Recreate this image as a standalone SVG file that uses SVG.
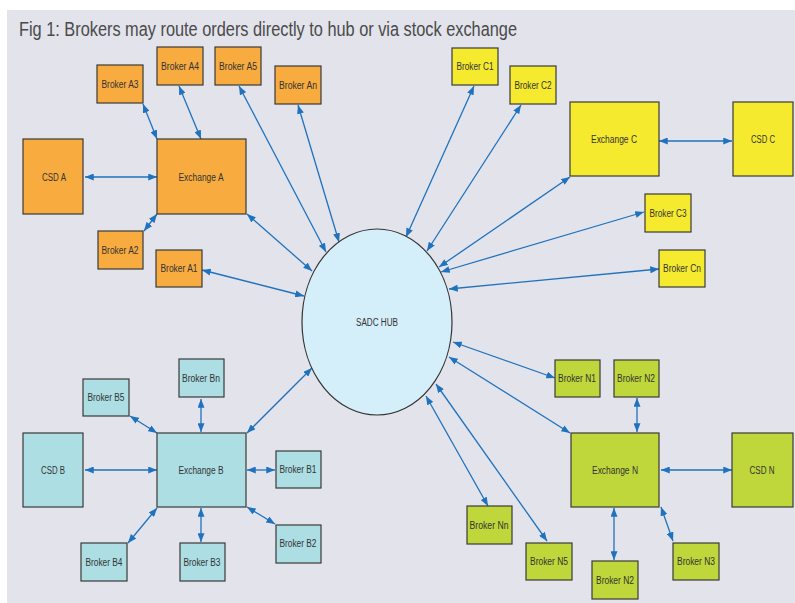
<svg xmlns="http://www.w3.org/2000/svg" width="795" height="603" viewBox="0 0 795 603">
<style>
.n rect{stroke:#3a3a3a;stroke-width:1.2}
.o rect{fill:#f8ac40}
.y rect{fill:#f6ea2f}
.b rect{fill:#acdee3}
.g rect{fill:#bfd73a}
text{font-family:"Liberation Sans",Arial,sans-serif;font-size:10px;fill:#333;text-anchor:middle;dominant-baseline:central}
#conn line{stroke:#1f72be;stroke-width:1.3;marker-start:url(#ah);marker-end:url(#ah)}
</style>
<defs>
<marker id="ah" viewBox="0 0 10 8" markerWidth="9" markerHeight="7" refX="10" refY="4" orient="auto-start-reverse" markerUnits="userSpaceOnUse">
<path d="M0,0 L10,4 L0,8 z" fill="#1f72be"/>
</marker>
</defs>
<rect x="0" y="0" width="795" height="603" fill="#ffffff"/>
<rect x="7" y="10" width="788" height="593" fill="#e2e3eb"/>
<text x="19" y="29" style="font-size:20px;fill:#4a4a4a;text-anchor:start" textLength="498" lengthAdjust="spacingAndGlyphs">Fig 1: Brokers may route orders directly to hub or via stock exchange</text>

<g id="conn">
<line x1="85" y1="177" x2="157" y2="177"/>
<line x1="143" y1="104" x2="157" y2="139"/>
<line x1="179" y1="86" x2="201" y2="139"/>
<line x1="239" y1="86" x2="326" y2="252"/>
<line x1="298" y1="105" x2="339" y2="242"/>
<line x1="247" y1="214" x2="312" y2="271"/>
<line x1="144" y1="231" x2="157" y2="214"/>
<line x1="202" y1="270" x2="304" y2="296"/>
<line x1="474" y1="86" x2="406" y2="237"/>
<line x1="521" y1="105" x2="427" y2="251"/>
<line x1="570" y1="177" x2="439" y2="267"/>
<line x1="644" y1="212" x2="441" y2="272"/>
<line x1="659" y1="269" x2="449" y2="289"/>
<line x1="659" y1="141" x2="732" y2="141"/>
<line x1="247" y1="433" x2="312" y2="368"/>
<line x1="130" y1="416" x2="157" y2="433"/>
<line x1="201" y1="399" x2="201" y2="432"/>
<line x1="85" y1="470" x2="157" y2="470"/>
<line x1="247" y1="470" x2="275" y2="470"/>
<line x1="247" y1="507" x2="275" y2="524"/>
<line x1="157" y1="508" x2="128" y2="543"/>
<line x1="201" y1="508" x2="201" y2="542"/>
<line x1="453" y1="342" x2="555" y2="378"/>
<line x1="449" y1="357" x2="570" y2="433"/>
<line x1="436" y1="384" x2="547" y2="541"/>
<line x1="426" y1="396" x2="488" y2="506"/>
<line x1="637" y1="398" x2="637" y2="432"/>
<line x1="661" y1="470" x2="732" y2="470"/>
<line x1="614" y1="508" x2="614" y2="560"/>
<line x1="661" y1="507" x2="673" y2="541"/>
</g>

<g id="hub"><ellipse cx="377" cy="322" rx="75" ry="93" fill="#d4eefa" stroke="#333" stroke-width="1.2"/><text x="377" y="322" textLength="42" lengthAdjust="spacingAndGlyphs">SADC HUB</text></g>

<g id="brokerA3" class="n o"><rect x="97" y="65" width="46" height="38"/><text x="120" y="84" textLength="37" lengthAdjust="spacingAndGlyphs">Broker A3</text></g>
<g id="brokerA4" class="n o"><rect x="157" y="47" width="46" height="38"/><text x="180" y="66" textLength="38" lengthAdjust="spacingAndGlyphs">Broker A4</text></g>
<g id="brokerA5" class="n o"><rect x="215" y="47" width="46" height="38"/><text x="238" y="66" textLength="38" lengthAdjust="spacingAndGlyphs">Broker A5</text></g>
<g id="brokerAn" class="n o"><rect x="275" y="66" width="46" height="38"/><text x="298" y="85" textLength="38" lengthAdjust="spacingAndGlyphs">Broker An</text></g>
<g id="csdA" class="n o"><rect x="23" y="139" width="60" height="75"/><text x="54" y="177" textLength="24" lengthAdjust="spacingAndGlyphs">CSD A</text></g>
<g id="exchangeA" class="n o"><rect x="157" y="139" width="89" height="75"/><text x="201" y="177" textLength="45" lengthAdjust="spacingAndGlyphs">Exchange A</text></g>
<g id="brokerA2" class="n o"><rect x="98" y="231" width="45" height="38"/><text x="120" y="250" textLength="37" lengthAdjust="spacingAndGlyphs">Broker A2</text></g>
<g id="brokerA1" class="n o"><rect x="156" y="250" width="46" height="37"/><text x="179" y="268" textLength="37" lengthAdjust="spacingAndGlyphs">Broker A1</text></g>

<g id="brokerC1" class="n y"><rect x="452" y="48" width="46" height="37"/><text x="475" y="66" textLength="37" lengthAdjust="spacingAndGlyphs">Broker C1</text></g>
<g id="brokerC2" class="n y"><rect x="510" y="66" width="46" height="38"/><text x="533" y="85" textLength="37" lengthAdjust="spacingAndGlyphs">Broker C2</text></g>
<g id="exchangeC" class="n y"><rect x="570" y="102" width="89" height="74"/><text x="614" y="139" textLength="46" lengthAdjust="spacingAndGlyphs">Exchange C</text></g>
<g id="csdC" class="n y"><rect x="733" y="102" width="60" height="74"/><text x="763" y="139" textLength="24" lengthAdjust="spacingAndGlyphs">CSD C</text></g>
<g id="brokerC3" class="n y"><rect x="645" y="194" width="46" height="38"/><text x="668" y="213" textLength="37" lengthAdjust="spacingAndGlyphs">Broker C3</text></g>
<g id="brokerCn" class="n y"><rect x="659" y="250" width="46" height="37"/><text x="682" y="268" textLength="38" lengthAdjust="spacingAndGlyphs">Broker Cn</text></g>

<g id="brokerBn" class="n b"><rect x="179" y="359" width="45" height="38"/><text x="201" y="378" textLength="38" lengthAdjust="spacingAndGlyphs">Broker Bn</text></g>
<g id="brokerB5" class="n b"><rect x="83" y="379" width="46" height="37"/><text x="106" y="397" textLength="37" lengthAdjust="spacingAndGlyphs">Broker B5</text></g>
<g id="csdB" class="n b"><rect x="23" y="433" width="60" height="74"/><text x="53" y="470" textLength="24" lengthAdjust="spacingAndGlyphs">CSD B</text></g>
<g id="exchangeB" class="n b"><rect x="157" y="433" width="89" height="74"/><text x="201" y="470" textLength="45" lengthAdjust="spacingAndGlyphs">Exchange B</text></g>
<g id="brokerB1" class="n b"><rect x="276" y="451" width="45" height="37"/><text x="298" y="469" textLength="37" lengthAdjust="spacingAndGlyphs">Broker B1</text></g>
<g id="brokerB2" class="n b"><rect x="276" y="525" width="45" height="38"/><text x="298" y="543" textLength="37" lengthAdjust="spacingAndGlyphs">Broker B2</text></g>
<g id="brokerB4" class="n b"><rect x="81" y="543" width="46" height="38"/><text x="104" y="562" textLength="37" lengthAdjust="spacingAndGlyphs">Broker B4</text></g>
<g id="brokerB3" class="n b"><rect x="180" y="543" width="45" height="38"/><text x="202" y="562" textLength="37" lengthAdjust="spacingAndGlyphs">Broker B3</text></g>

<g id="brokerN1" class="n g"><rect x="555" y="360" width="45" height="37"/><text x="577" y="378" textLength="38" lengthAdjust="spacingAndGlyphs">Broker N1</text></g>
<g id="brokerN2top" class="n g"><rect x="614" y="360" width="45" height="37"/><text x="636" y="378" textLength="38" lengthAdjust="spacingAndGlyphs">Broker N2</text></g>
<g id="exchangeN" class="n g"><rect x="571" y="433" width="88" height="74"/><text x="615" y="470" textLength="46" lengthAdjust="spacingAndGlyphs">Exchange N</text></g>
<g id="csdN" class="n g"><rect x="732" y="433" width="61" height="74"/><text x="762" y="470" textLength="25" lengthAdjust="spacingAndGlyphs">CSD N</text></g>
<g id="brokerNn" class="n g"><rect x="467" y="506" width="45" height="38"/><text x="489" y="525" textLength="39" lengthAdjust="spacingAndGlyphs">Broker Nn</text></g>
<g id="brokerN5" class="n g"><rect x="526" y="543" width="46" height="37"/><text x="549" y="561" textLength="38" lengthAdjust="spacingAndGlyphs">Broker N5</text></g>
<g id="brokerN2bottom" class="n g"><rect x="592" y="561" width="46" height="38"/><text x="615" y="580" textLength="38" lengthAdjust="spacingAndGlyphs">Broker N2</text></g>
<g id="brokerN3" class="n g"><rect x="673" y="543" width="46" height="37"/><text x="696" y="561" textLength="38" lengthAdjust="spacingAndGlyphs">Broker N3</text></g>
</svg>
